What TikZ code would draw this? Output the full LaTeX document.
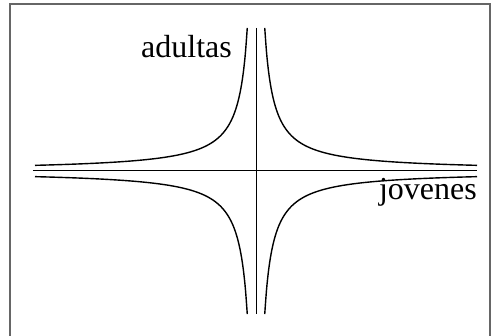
\documentclass[tikz,border=0pt]{standalone}
\usepackage{fontspec}
\setmainfont{Liberation Serif}
\usepackage{tikz}
\usetikzlibrary{positioning, calc}

\tikzset{
  frame/.style={draw=black!60, line width=1.2pt},
  axis/.style={line width=1pt},
  branch/.style={line width=1.4pt, samples=120, smooth},
  axislabel/.style={inner sep=0pt, anchor=base east, font=\fontsize{32}{38}\selectfont}
}

\begin{document}
\begin{tikzpicture}[x=1pt, y=1pt]
  \useasboundingbox (-256,-165) rectangle (236,171);
  % Frame
  \draw[frame] (-246,-175) rectangle (234,167);

  % Axes
  \coordinate (west) at (-223,0);
  \coordinate (east) at (221,0);
  \coordinate (north) at (0,143);
  \coordinate (south) at (0,-143);
  \draw[axis] (west) -- (east);
  \draw[axis] (north) -- (south);

  % Hyperbola branches, one per quadrant
  \foreach \sx/\sy in {1/1, -1/1, 1/-1, -1/-1} {
    \draw[branch, domain=8.74:221] plot ({\sx*\x}, {\sy*1250/\x});
  }

  % Labels
  \node[axislabel] (adultas) at (-24,113) {adultas};
  \node[axislabel] (jovenes) at (221,-29) {jovenes};
\end{tikzpicture}
\end{document}
